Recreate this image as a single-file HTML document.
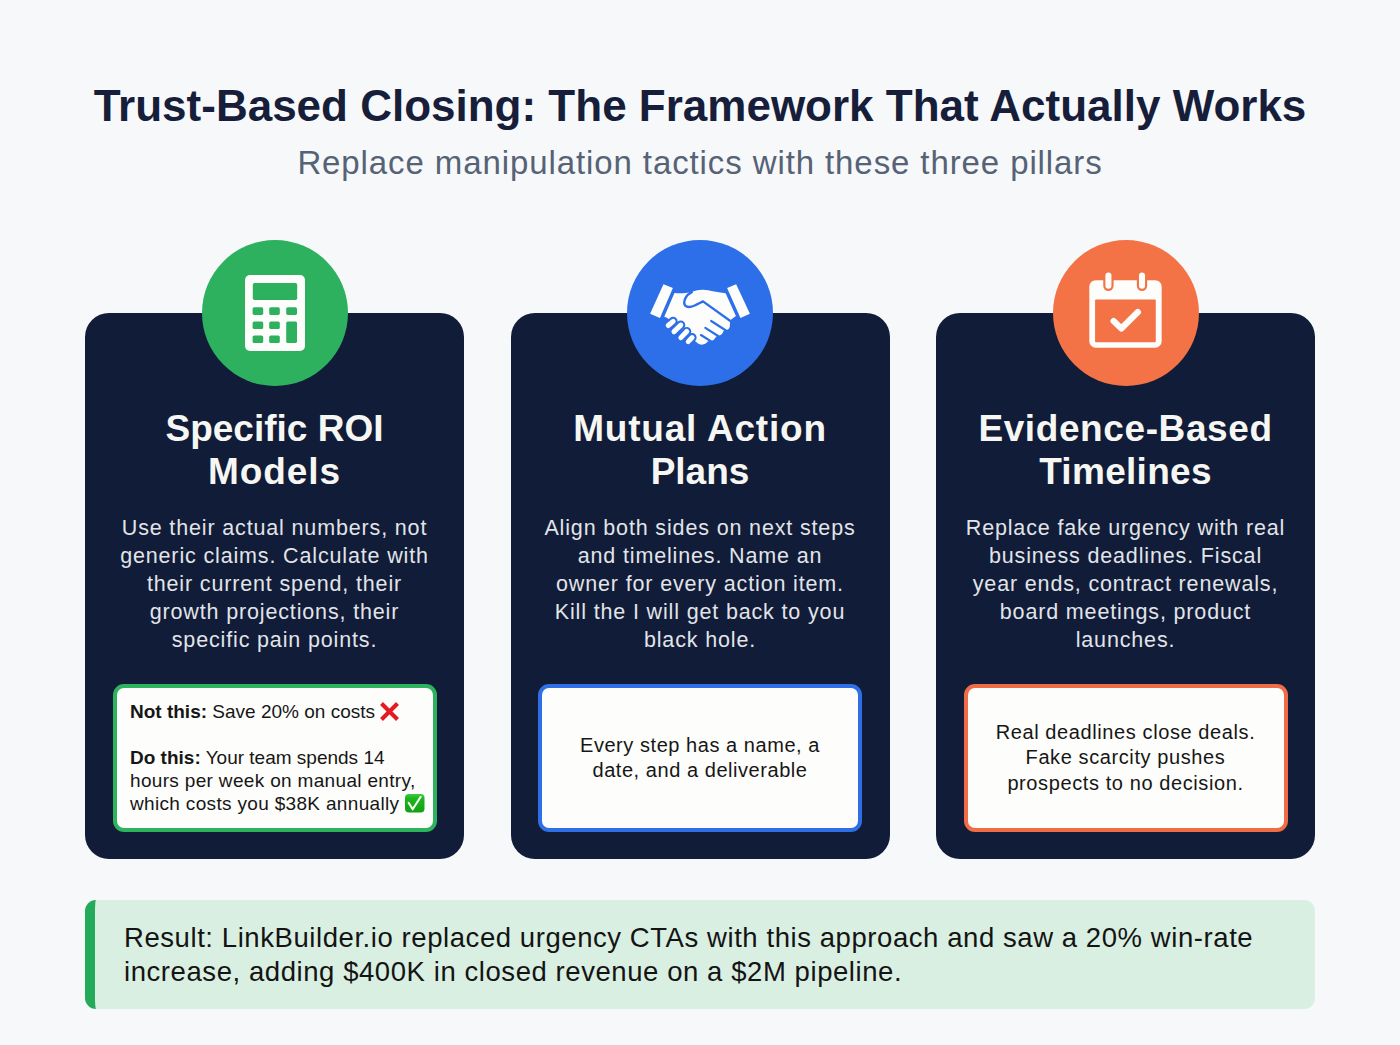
<!DOCTYPE html>
<html><head><meta charset="utf-8">
<style>
*{margin:0;padding:0;box-sizing:border-box}
html,body{width:1400px;height:1045px;overflow:hidden;background:#f6f8fa;font-family:"Liberation Sans",sans-serif}
.abs{position:absolute}
.t{white-space:nowrap}
#title{left:0;width:1400px;top:80px;text-align:center;font-weight:700;font-size:44px;line-height:52px;color:#161e3a}
#sub{left:0;width:1400px;top:144px;text-align:center;font-size:33px;line-height:38px;color:#566275;letter-spacing:0.9px}
.card{top:313px;width:379px;height:546px;background:#101c38;border-radius:24px}
.circ{top:240px;width:146px;height:146px;border-radius:50%}
.ct{width:379px;text-align:center;color:#f6f6f2;font-weight:700;font-size:37px;line-height:42.5px;top:408px}
.cb{width:379px;text-align:center;color:#e2e4e8;font-size:21.5px;line-height:28px;top:514px;letter-spacing:0.85px}
.box{top:684px;width:324px;height:148px;background:#fdfdfb;border:4.5px solid;border-radius:11px}
.bt{color:#161616;font-size:19px;line-height:23px}
#banner{left:85px;top:900px;width:1230px;height:109px;background:#d9efe2;border-radius:11px;border-left:10.5px solid #24aa5b}
#bannertext{left:124px;top:921px;font-size:27.5px;letter-spacing:0.57px;line-height:34px;color:#141414}
</style></head>
<body>
<div id="title" class="abs t">Trust-Based Closing: The Framework That Actually Works</div>
<div id="sub" class="abs t">Replace manipulation tactics with these three pillars</div>

<div class="abs card" style="left:85px"></div>
<div class="abs card" style="left:510.5px"></div>
<div class="abs card" style="left:936px"></div>

<div class="abs circ" style="left:201.5px;background:#2eb15f"></div>
<div class="abs circ" style="left:627px;background:#2d6fe8"></div>
<div class="abs circ" style="left:1052.5px;background:#f47346"></div>

<div class="abs ct t" style="left:85px">Specific ROI<br><span style="letter-spacing:0.9px">Models</span></div>
<div class="abs ct t" style="left:510.5px"><span style="letter-spacing:0.8px">Mutual Action</span><br>Plans</div>
<div class="abs ct t" style="left:936px"><span style="letter-spacing:0.6px">Evidence-Based</span><br><span style="letter-spacing:0.3px">Timelines</span></div>

<div class="abs cb t" style="left:85px">Use their actual numbers, not<br>generic claims. Calculate with<br>their current spend, their<br>growth projections, their<br>specific pain points.</div>
<div class="abs cb t" style="left:510.5px">Align both sides on next steps<br>and timelines. Name an<br>owner for every action item.<br>Kill the I will get back to you<br>black hole.</div>
<div class="abs cb t" style="left:936px">Replace fake urgency with real<br>business deadlines. Fiscal<br>year ends, contract renewals,<br>board meetings, product<br>launches.</div>

<div class="abs box" style="left:113px;border-color:#2db35d"></div>
<div class="abs box" style="left:538px;border-color:#2f6fe6"></div>
<div class="abs box" style="left:963.5px;border-color:#ef6c46"></div>

<div id="b1" class="abs bt t" style="left:130px;top:701px;line-height:22.9px"><b>Not this:</b> Save 20% on costs<br><br><b>Do this:</b> Your team spends 14<br><span style="letter-spacing:0.33px">hours per week on manual entry,</span><br><span style="letter-spacing:0.33px">which costs you $38K annually</span></div>
<div class="abs bt t" style="left:538px;width:324px;text-align:center;top:733.2px;line-height:25px;font-size:20px;letter-spacing:0.55px">Every step has a name, a<br>date, and a deliverable</div>
<div class="abs bt t" style="left:963.5px;width:324px;text-align:center;top:719.5px;line-height:25.5px;font-size:20px;letter-spacing:0.6px">Real deadlines close deals.<br>Fake scarcity pushes<br>prospects to no decision.</div>

<svg class="abs" style="left:0;top:0" width="1400" height="1045" viewBox="0 0 1400 1045">
<!-- calculator -->
<g fill="#fdfdfb">
<rect x="245" y="275" width="60" height="76" rx="5"/>
</g>
<g fill="#2eb15f">
<rect x="252.8" y="283" width="44.4" height="17" rx="1.8"/>
<rect x="252.6" y="307.3" width="10.6" height="7.6" rx="1.6"/>
<rect x="269.2" y="307.3" width="10.6" height="7.6" rx="1.6"/>
<rect x="286.2" y="307.3" width="10.8" height="7.6" rx="1.6"/>
<rect x="252.6" y="321.4" width="10.6" height="7.6" rx="1.6"/>
<rect x="269.2" y="321.4" width="10.6" height="7.6" rx="1.6"/>
<rect x="286.2" y="321.4" width="10.8" height="21.7" rx="1.6"/>
<rect x="252.6" y="335.5" width="10.6" height="7.6" rx="1.6"/>
<rect x="269.2" y="335.5" width="10.6" height="7.6" rx="1.6"/>
</g>
<!-- handshake -->
<g transform="translate(645,278) scale(0.078571)">
<g fill="#fdfdfb">
<polygon points="235,78 355,128 190,510 65,455"/>
<polygon points="1045,128 1160,78 1335,455 1215,510"/>
<path d="M375,190 C450,200 520,192 590,178 C650,160 700,148 741,151 C820,158 900,177 1026,195 L1157,484 L1084,538 L1080,612 Q1076,664 1022,664 L1000,676 Q985,725 932,740 L905,746 Q882,798 834,802 L800,806 Q772,846 722,848 Q680,848 655,818 L280,505 L245,492 Z"/>
</g>
<path d="M595,180 C520,215 478,300 512,352 C560,398 640,345 738,297 L1082,545" fill="none" stroke="#2d6fe8" stroke-width="30" stroke-linecap="round" stroke-linejoin="round"/>
<g stroke="#2d6fe8" stroke-width="28" stroke-linecap="round">
<line x1="842" y1="547" x2="1030" y2="668"/>
<line x1="768" y1="635" x2="940" y2="745"/>
<line x1="712" y1="726" x2="842" y2="806"/>
</g>
<g fill="#fdfdfb" stroke="#2d6fe8" stroke-width="26">
<rect x="241.0" y="533.0" width="172" height="90" rx="45.0" transform="rotate(-40 327 578)"/>
<rect x="307.0" y="596.0" width="210" height="90" rx="45.0" transform="rotate(-44 412 641)"/>
<rect x="395.0" y="675.0" width="198" height="90" rx="45.0" transform="rotate(-46 494 720)"/>
<rect x="495.0" y="740.0" width="160" height="88" rx="44.0" transform="rotate(-46 575 784)"/>
</g>
</g>
<!-- calendar -->
<g transform="translate(1080,266) scale(0.086124)">
<rect x="108" y="165" width="840" height="783" rx="75" fill="#fdfdfb"/>
<rect x="175" y="390" width="705" height="495" rx="12" fill="#f47346"/>
<rect x="270" y="50" width="120" height="240" rx="60" fill="#f47346"/>
<rect x="660" y="50" width="120" height="240" rx="60" fill="#f47346"/>
<rect x="295" y="75" width="70" height="190" rx="35" fill="#fdfdfb"/>
<rect x="685" y="75" width="70" height="190" rx="35" fill="#fdfdfb"/>
<polyline points="390,640 480,725 672,535" fill="none" stroke="#fdfdfb" stroke-width="72" stroke-linecap="round" stroke-linejoin="round"/>
</g>
<!-- emoji -->
<g stroke="#e31b23" stroke-width="4" stroke-linecap="butt">
<line x1="381.5" y1="703.5" x2="397.5" y2="719.5"/><line x1="397.5" y1="703.5" x2="381.5" y2="719.5"/>
</g>
<defs><linearGradient id="gck" x1="0" y1="0" x2="0" y2="1"><stop offset="0" stop-color="#3fcb3f"/><stop offset="0.25" stop-color="#1cb51f"/><stop offset="1" stop-color="#129e14"/></linearGradient></defs><rect x="405" y="794" width="19.5" height="18.6" rx="4" fill="url(#gck)"/>
<polyline points="408.6,802.8 412.7,809.3 420.7,796.8" fill="none" stroke="#f4fff0" stroke-width="2.1" stroke-linecap="round" stroke-linejoin="round"/>
</svg>
<div id="banner" class="abs"></div>
<div id="bannertext" class="abs t">Result: LinkBuilder.io replaced urgency CTAs with this approach and saw a 20% win-rate<br>increase, adding $400K in closed revenue on a $2M pipeline.</div>
</body></html>
